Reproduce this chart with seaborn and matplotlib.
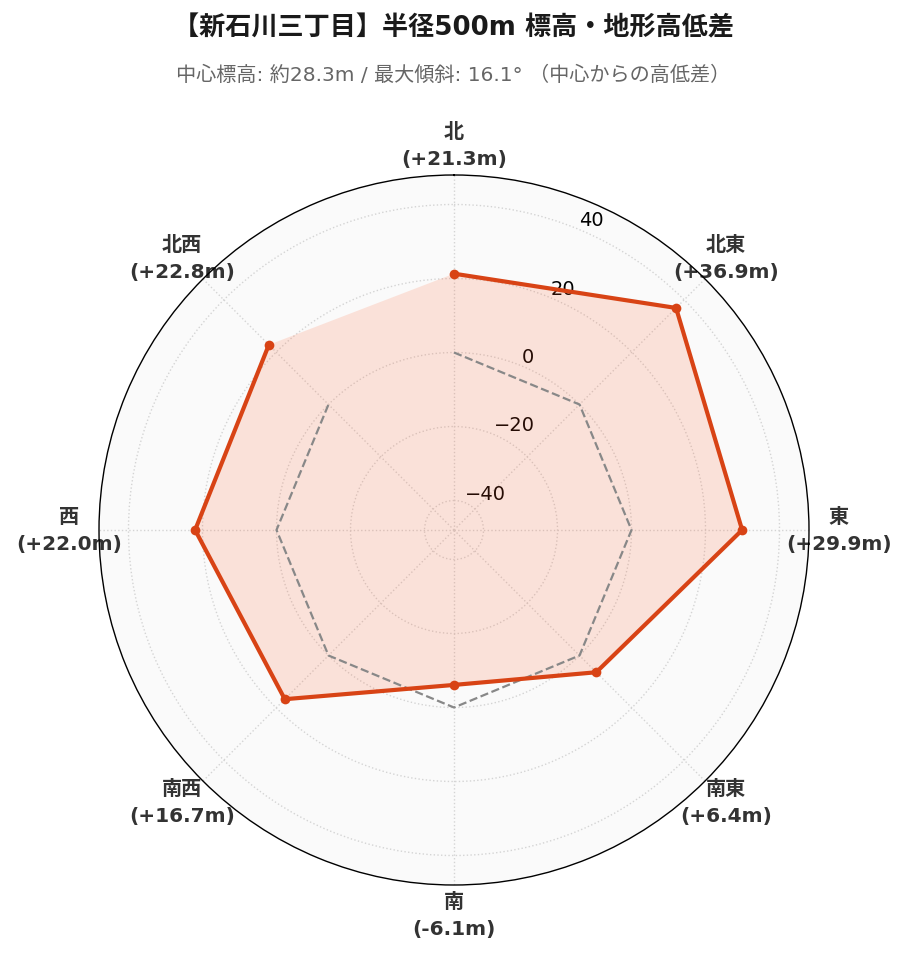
import numpy as np
import pandas as pd
import matplotlib
matplotlib.use('Agg')
import matplotlib.pyplot as plt
import seaborn as sns

# data
directions = ['北', '北東', '東', '南東', '南', '南西', '西', '北西']
elevation_diff = [21.3, 36.9, 29.9, 6.4, -6.1, 16.7, 22.0, 22.8]
radial_ticks = [-40, -20, 0, 20, 40]

title = '【新石川三丁目】半径500m 標高・地形高低差'
subtitle = '中心標高: 約28.3m / 最大傾斜: 16.1° （中心からの高低差）'

sns.set_theme(style='white')
plt.rcParams['font.family'] = ['DejaVu Sans', 'Noto Sans CJK JP']

n = len(directions)
angles = np.linspace(0, 2 * np.pi, n, endpoint=False)
df = pd.DataFrame({
    'angle': np.append(angles, angles[0]),
    'diff': np.append(elevation_diff, elevation_diff[0]),
    'zero': 0.0,
})

fig = plt.figure(figsize=(9.07, 9.62), dpi=100)
ax = fig.add_axes([(454 - 355) / 907, (962 - 531 - 355) / 962, 710 / 907, 710 / 962],
                  projection='polar')
ax.set_theta_zero_location('N')
ax.set_theta_direction(-1)
ax.set_facecolor('#fafafa')

lim = max(abs(v) for v in elevation_diff) * 1.3
ax.set_ylim(-lim, lim)

# zero reference line
sns.lineplot(data=df, x='angle', y='zero', sort=False, ax=ax, color='#888888',
             linewidth=1.6, linestyle='--', zorder=3)
# elevation difference
sns.lineplot(data=df, x='angle', y='diff', sort=False, ax=ax, color='#d84315',
             linewidth=3, marker='o', markersize=7, markeredgewidth=0, zorder=4)
ax.fill(df['angle'], df['diff'], color='#ff5722', alpha=0.15, linewidth=0, zorder=2)

labels = [f'{d}\n({v:+.1f}m)' for d, v in zip(directions, elevation_diff)]
ax.set_xticks(angles)
ax.set_xticklabels(labels, fontsize=14.5, fontweight='bold', color='#333333',
                   linespacing=1.55)
ax.tick_params(axis='x', pad=8.5)

ax.set_yticks(radial_ticks)
ax.set_yticklabels([f'{t}'.replace('-', '\u2212') for t in radial_ticks],
                   fontsize=14, color='black')
ax.set_rlabel_position(22.5)

ax.grid(True, color='#d4d4d4', linestyle=':', linewidth=1)
ax.spines['polar'].set_color('black')
ax.spines['polar'].set_linewidth(1)
ax.set_xlabel('')
ax.set_ylabel('')

fig.text(0.5, 1 - 28 / 962, title, ha='center', va='center', fontsize=18.8,
         fontweight='bold', color='#1a1a1a')
fig.text(0.5, 1 - 75 / 962, subtitle, ha='center', va='center', fontsize=14.5,
         color='#666666')

fig.savefig('out.png', dpi=100)
